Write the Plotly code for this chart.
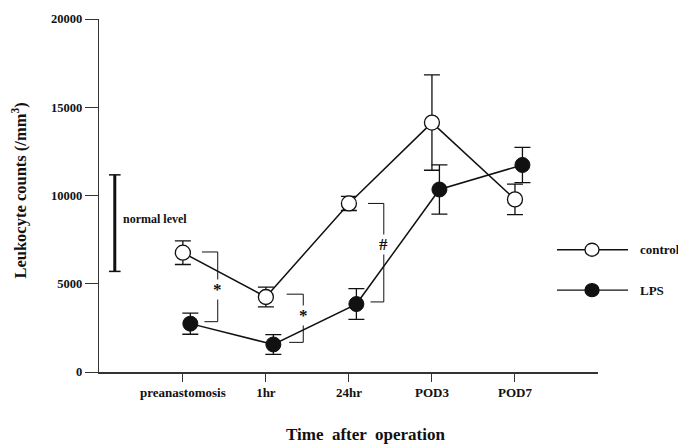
import plotly.graph_objects as go

categories = ["preanastomosis", "1hr", "24hr", "POD3", "POD7"]
control_vals = [6760, 4250, 9550, 14130, 9780]
control_err = [670, 560, 400, 2700, 860]
lps_vals = [2740, 1560, 3850, 10340, 11730]
lps_err = [600, 560, 870, 1400, 1000]
y_ticks = [0, 5000, 10000, 15000, 20000]
normal_range = [5700, 11170]

# significance brackets: (x of vertical, x of left end, y top, y bottom, symbol, y of symbol)
brackets = [
    (0.42, 0.23, 6800, 2850, "*", 4690),
    (1.45, 1.25, 4410, 1680, "*", 3180),
    (2.42, 2.23, 9550, 3970, "#", 7200),
]

x_ctrl = list(range(len(categories)))
x_lps = [i + 0.09 for i in x_ctrl]

FONT = "Liberation Serif, Times New Roman, serif"
INK = "#111111"

fig = go.Figure()
fig.add_trace(go.Scatter(
    x=x_ctrl, y=control_vals, mode="lines+markers", name="control",
    line=dict(color=INK, width=1.5),
    marker=dict(symbol="circle", size=15, color="white", line=dict(color=INK, width=1.3)),
    error_y=dict(type="data", array=control_err, visible=True, color=INK, thickness=1.3, width=8),
))
fig.add_trace(go.Scatter(
    x=x_lps, y=lps_vals, mode="lines+markers", name="LPS",
    line=dict(color=INK, width=1.5),
    marker=dict(symbol="circle", size=15, color=INK, line=dict(color=INK, width=1)),
    error_y=dict(type="data", array=lps_err, visible=True, color=INK, thickness=1.3, width=8),
))

shapes = []
annotations = []

# normal level bar
nx = -0.82
shapes.append(dict(type="line", xref="x", yref="y", x0=nx, x1=nx, y0=normal_range[0], y1=normal_range[1],
                   line=dict(color=INK, width=3)))
for yv in normal_range:
    shapes.append(dict(type="line", xref="x", yref="y", x0=nx - 0.07, x1=nx + 0.07, y0=yv, y1=yv,
                       line=dict(color=INK, width=1.5)))
annotations.append(dict(x=nx + 0.07, y=8650, xref="x", yref="y", text="normal level", showarrow=False,
                        xanchor="left", yanchor="middle",
                        font=dict(family=FONT, size=12, color=INK, weight="bold")))

for xv, xl, yt, yb, sym, ys in brackets:
    shapes.append(dict(type="line", xref="x", yref="y", x0=xl, x1=xv, y0=yt, y1=yt, line=dict(color=INK, width=1)))
    shapes.append(dict(type="line", xref="x", yref="y", x0=xl + 0.03, x1=xv, y0=yb, y1=yb, line=dict(color=INK, width=1)))
    shapes.append(dict(type="line", xref="x", yref="y", x0=xv, x1=xv, y0=yb, y1=yt, line=dict(color=INK, width=1)))
    annotations.append(dict(x=xv, y=ys, xref="x", yref="y", text=sym, showarrow=False,
                            bgcolor="white", borderpad=0,
                            font=dict(family=FONT, size=17, color=INK, weight="bold")))

# manual legend
L, R, T, B = 99, 598, 14, 372
def px(x):
    return (x - L) / (R - L)
def py(y):
    return (B - y) / (B - T)

for label, fill, ypix in [("control", "white", 248), ("LPS", INK, 289)]:
    shapes.append(dict(type="line", xref="paper", yref="paper", x0=px(557), x1=px(628), y0=py(ypix), y1=py(ypix),
                       line=dict(color=INK, width=1.3)))
    shapes.append(dict(type="circle", xref="paper", yref="paper", xsizemode="pixel", ysizemode="pixel",
                       xanchor=px(592), yanchor=py(ypix), x0=-7, x1=7, y0=-6.5, y1=6.5,
                       fillcolor=fill, line=dict(color=INK, width=1.3)))
    annotations.append(dict(x=px(638), y=py(ypix), xref="paper", yref="paper", text=label, showarrow=False,
                            xanchor="left", yanchor="middle",
                            font=dict(family=FONT, size=13, color=INK, weight="bold")))

# axis titles
annotations.append(dict(x=px(20), y=py(188), xref="paper", yref="paper", text="Leukocyte counts (/mm<sup>3</sup>)",
                        showarrow=False, textangle=-90, xanchor="center", yanchor="middle",
                        font=dict(family=FONT, size=16.5, color=INK, weight="bold")))
annotations.append(dict(x=px(365), y=py(435), xref="paper", yref="paper", text="Time  after  operation",
                        showarrow=False, xanchor="center", yanchor="middle",
                        font=dict(family=FONT, size=17, color=INK, weight="bold")))

fig.update_layout(
    width=678, height=446,
    margin=dict(l=L, r=678 - R, t=T, b=446 - B, pad=0),
    paper_bgcolor="white", plot_bgcolor="white",
    showlegend=False,
    shapes=shapes, annotations=annotations,
    xaxis=dict(range=[-1.01, 5.0], tickmode="array", tickvals=x_ctrl, ticktext=categories,
               showgrid=False, zeroline=False, showline=True, linecolor="#333333", linewidth=1.5,
               ticks="outside", ticklen=8, tickwidth=1.3, tickcolor="#333333",
               tickfont=dict(family=FONT, size=13, color=INK, weight="bold")),
    yaxis=dict(range=[0, 20000], tickmode="array", tickvals=y_ticks, ticktext=[str(v) for v in y_ticks],
               showgrid=False, zeroline=False, showline=True, linecolor="#333333", linewidth=1.3,
               ticks="outside", ticklen=13, tickwidth=1.3, tickcolor="#333333",
               tickfont=dict(family=FONT, size=12.5, color=INK, weight="bold")),
)

fig.write_html("out.html")
